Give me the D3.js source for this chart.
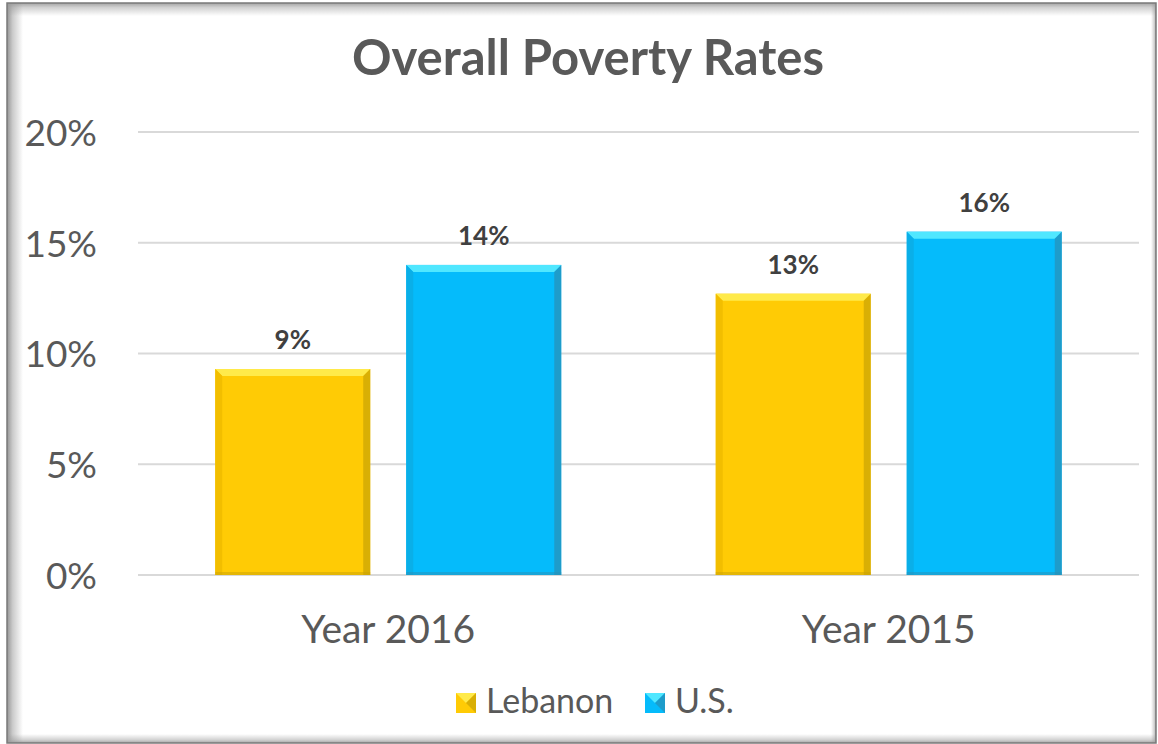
<!DOCTYPE html>
<html>
<head>
<meta charset="utf-8">
<script src="https://cdn.jsdelivr.net/npm/d3@7"></script>
<style>
  html, body { margin: 0; padding: 0; background: #fff; }
  svg { display: block; }
</style>
</head>
<body>
<div id="chart"></div>
<script>
// values (percent)
const years = ["Year 2016", "Year 2015"];
const seriesNames = ["Lebanon", "U.S."];
const lebanon = [9.3, 12.7];
const us = [14.0, 15.5];
const yTicks = [0, 5, 10, 15, 20];

const colors = {
  "Lebanon": { main: "#ffcb05", top: "#ffea4a", side: "#c9a206", left: "#f2be00" },
  "U.S.": { main: "#05bbfb", top: "#50e7ff", side: "#2a8fb5", left: "#0aafe8" }
};

const FONT = "Lato, 'Open Sans', sans-serif";
const W = 1158, H = 744;
const plot = { left: 138, right: 1139, top: 132, bottom: 575 };
const frame = { x: 7, y: 3, w: 1149, h: 740 };

const svg = d3.select("#chart").append("svg")
  .attr("width", W)
  .attr("height", H);

const defs = svg.append("defs");
function fade(id, x1, y1, x2, y2, dark) {
  const g = defs.append("linearGradient").attr("id", id)
    .attr("x1", x1).attr("y1", y1).attr("x2", x2).attr("y2", y2);
  g.append("stop").attr("offset", 0).attr("stop-color", dark).attr("stop-opacity", 0.9);
  g.append("stop").attr("offset", 0.35).attr("stop-color", dark).attr("stop-opacity", 0.45);
  g.append("stop").attr("offset", 1).attr("stop-color", dark).attr("stop-opacity", 0);
}
fade("shL", 0, 0, 1, 0, "#8a8a8a");
fade("shT", 0, 0, 0, 1, "#9a9a9a");
fade("shR", 1, 0, 0, 0, "#9a9a9a");
fade("shB", 0, 1, 0, 0, "#9a9a9a");

// frame with inner shadow
svg.append("rect")
  .attr("x", frame.x).attr("y", frame.y).attr("width", frame.w).attr("height", frame.h)
  .attr("fill", "#fff");
const sh = svg.append("g");
sh.append("rect").attr("x", frame.x).attr("y", frame.y).attr("width", 16).attr("height", frame.h).attr("fill", "url(#shL)");
sh.append("rect").attr("x", frame.x).attr("y", frame.y).attr("width", frame.w).attr("height", 13).attr("fill", "url(#shT)");
sh.append("rect").attr("x", frame.x + frame.w - 5).attr("y", frame.y).attr("width", 5).attr("height", frame.h).attr("fill", "url(#shR)");
sh.append("rect").attr("x", frame.x).attr("y", frame.y + frame.h - 9).attr("width", frame.w).attr("height", 9).attr("fill", "url(#shB)");
svg.append("rect")
  .attr("x", frame.x).attr("y", frame.y).attr("width", frame.w).attr("height", frame.h)
  .attr("fill", "none")
  .attr("stroke", "#7a7a7a")
  .attr("stroke-width", 1.5);

// scales
const y = d3.scaleLinear().domain([0, 20]).range([plot.bottom, plot.top]);
const x0 = d3.scaleBand().domain(years).range([plot.left, plot.right]).padding(0);
const groupW = 346;
const x1 = d3.scaleBand().domain(seriesNames).range([0, groupW]).paddingInner(36 / 191);
const groupOffset = (x0.bandwidth() - groupW) / 2;

// gridlines
svg.append("g")
  .selectAll("line")
  .data(yTicks)
  .join("line")
  .attr("x1", plot.left).attr("x2", plot.right)
  .attr("y1", d => y(d)).attr("y2", d => y(d))
  .attr("stroke", "#d9d9d9")
  .attr("stroke-width", 2);

// y axis labels
const yAxis = d3.axisLeft(y).tickValues(yTicks).tickFormat(d => d + "%").tickSize(0).tickPadding(0);
const yg = svg.append("g")
  .attr("transform", `translate(97,0)`)
  .call(yAxis);
yg.select(".domain").remove();
yg.selectAll("text")
  .attr("dy", "0.36em")
  .style("font-family", FONT)
  .style("font-size", "37px")
  .attr("fill", "#595959");

// x axis labels
const xAxis = d3.axisBottom(x0).tickSize(0).tickPadding(0);
const xg = svg.append("g")
  .attr("transform", `translate(0,${plot.bottom + 40})`)
  .call(xAxis);
xg.select(".domain").remove();
xg.selectAll("text")
  .style("font-family", FONT)
  .style("font-size", "39px")
  .attr("fill", "#595959");

// bars
const rows = [];
years.forEach((yr, i) => {
  rows.push({ year: yr, series: "Lebanon", value: lebanon[i] });
  rows.push({ year: yr, series: "U.S.", value: us[i] });
});

const bev = 7;
const bars = svg.append("g").selectAll("g")
  .data(rows)
  .join("g")
  .attr("transform", d => `translate(${x0(d.year) + groupOffset + x1(d.series)},0)`);

bars.each(function (d) {
  const g = d3.select(this);
  const w = x1.bandwidth();
  const top = y(d.value);
  const bot = y(0);
  const c = colors[d.series];
  g.append("rect")
    .attr("x", 0).attr("y", top).attr("width", w).attr("height", bot - top)
    .attr("fill", c.main);
  // top bevel
  g.append("polygon")
    .attr("points", [[0, top], [w, top], [w - bev, top + bev], [bev, top + bev]].map(p => p.join(",")).join(" "))
    .attr("fill", c.top);
  // right bevel
  g.append("polygon")
    .attr("points", [[w, top], [w, bot], [w - bev, bot], [w - bev, top + bev]].map(p => p.join(",")).join(" "))
    .attr("fill", c.side)
    .attr("opacity", 0.7);
  // left bevel
  g.append("polygon")
    .attr("points", [[0, top], [bev, top + bev], [bev, bot], [0, bot]].map(p => p.join(",")).join(" "))
    .attr("fill", c.left);
  // bottom edge
  g.append("rect")
    .attr("x", 0).attr("y", bot - 3).attr("width", w).attr("height", 3)
    .attr("fill", c.side).attr("opacity", 0.5);
});

// data labels
bars.append("text")
  .attr("x", x1.bandwidth() / 2)
  .attr("y", d => y(d.value) - 20)
  .attr("text-anchor", "middle")
  .style("font-family", FONT)
  .style("font-weight", "bold")
  .style("font-size", "26px")
  .attr("fill", "#404040")
  .text(d => Math.round(d.value) + "%");

// title
svg.append("text")
  .attr("x", 588).attr("y", 75)
  .attr("text-anchor", "middle")
  .style("font-family", FONT)
  .style("font-weight", "bold")
  .style("font-size", "49px")
  .attr("fill", "#595959")
  .text("Overall Poverty Rates");

// legend
const legendX = [456, 645];
const legend = svg.append("g").selectAll("g")
  .data(seriesNames)
  .join("g")
  .attr("transform", (d, i) => `translate(${legendX[i]},693)`);
legend.each(function (d) {
  const g = d3.select(this);
  const c = colors[d];
  const s = 20;
  g.append("rect").attr("width", s).attr("height", s).attr("fill", c.main);
  g.append("polygon")
    .attr("points", [[0, 0], [s, 0], [s / 2, s / 2]].map(p => p.join(",")).join(" "))
    .attr("fill", c.top);
  g.append("polygon")
    .attr("points", [[s, 0], [s, s], [s / 2, s / 2]].map(p => p.join(",")).join(" "))
    .attr("fill", c.side).attr("opacity", 0.7);
  g.append("text")
    .attr("x", 30).attr("y", 20)
    .style("font-family", FONT)
    .style("font-size", "34px")
    .attr("fill", "#595959")
    .text(d);
});
</script>
</body>
</html>
